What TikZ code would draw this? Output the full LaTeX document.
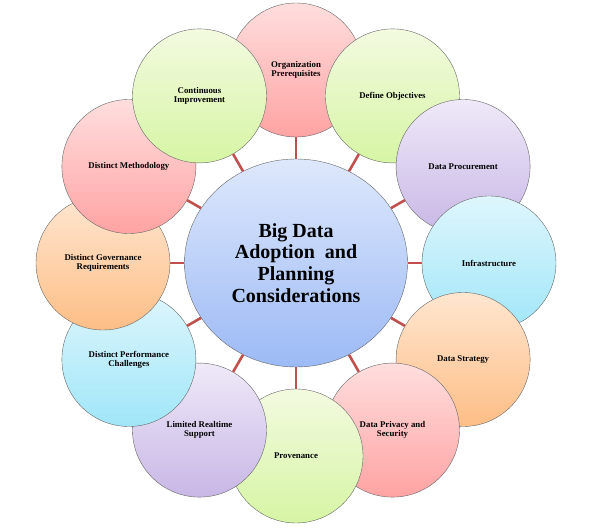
\documentclass[tikz,border=0pt]{standalone}
\usepackage{fontspec}
\setmainfont{Liberation Serif}
\usetikzlibrary{shapes}

\definecolor{linkred}{RGB}{192,80,77}
\definecolor{pinktop}{RGB}{255,222,222}
\definecolor{pinkbot}{RGB}{255,163,163}
\definecolor{greentop}{RGB}{243,250,224}
\definecolor{greenbot}{RGB}{214,245,164}
\definecolor{purpletop}{RGB}{239,233,248}
\definecolor{purplebot}{RGB}{200,183,230}
\definecolor{cyantop}{RGB}{222,246,253}
\definecolor{cyanbot}{RGB}{160,230,248}
\definecolor{orangetop}{RGB}{255,230,208}
\definecolor{orangebot}{RGB}{253,190,134}
\definecolor{bluetop}{RGB}{222,232,252}
\definecolor{bluebot}{RGB}{156,186,245}

\tikzset{
	ball/.style={circle, draw=black!60, thin, minimum size=134pt, inner sep=0pt, align=center, font=\bfseries\fontsize{8.8}{9.2}\selectfont},
	pinkball/.style={ball, top color=pinktop, bottom color=pinkbot},
	greenball/.style={ball, top color=greentop, bottom color=greenbot},
	purpleball/.style={ball, top color=purpletop, bottom color=purplebot},
	cyanball/.style={ball, top color=cyantop, bottom color=cyanbot},
	orangeball/.style={ball, top color=orangetop, bottom color=orangebot},
	hubball/.style={ellipse, draw=black!60, thin, minimum width=223pt, minimum height=208pt, inner sep=0pt, align=center, top color=bluetop, bottom color=bluebot, font=\bfseries\fontsize{20}{21.7}\selectfont},
	link/.style={draw=linkred, line width=2.6pt}
}

\begin{document}
\begin{tikzpicture}[x=1pt, y=1pt]
	\useasboundingbox (0,0) rectangle (590,531);
	
	\node[pinkball] (org) at (296,461) {Organization\\Prerequisites};
	\node[greenball] (objectives) at (392.5,435.1) {Define Objectives};
	\node[purpleball] (procure) at (463.1,364.5) {Data Procurement};
	\node[cyanball] (infra) at (489,268) {Infrastructure};
	\node[orangeball] (strategy) at (463.1,171.5) {Data Strategy};
	\node[pinkball] (privacy) at (392.5,100.9) {Data Privacy and\\Security};
	\node[greenball] (proven) at (296,75) {Provenance};
	\node[purpleball] (realtime) at (199.5,100.9) {Limited Realtime\\Support};
	\node[cyanball] (perform) at (128.9,171.5) {Distinct Performance\\Challenges};
	\node[orangeball] (govern) at (103,268) {Distinct Governance\\Requirements};
	\node[pinkball] (method) at (128.9,364.5) {Distinct Methodology};
	\node[greenball] (improve) at (199.5,435.1) {Continuous\\Improvement};
	
	\node[hubball] (hub) at (296,268) {Big Data\\Adoption\ \ and\\Planning\\Considerations};
	
	\draw[link] (hub) -- (org);
	\draw[link] (hub) -- (objectives);
	\draw[link] (hub) -- (procure);
	\draw[link] (hub) -- (infra);
	\draw[link] (hub) -- (strategy);
	\draw[link] (hub) -- (privacy);
	\draw[link] (hub) -- (proven);
	\draw[link] (hub) -- (realtime);
	\draw[link] (hub) -- (perform);
	\draw[link] (hub) -- (govern);
	\draw[link] (hub) -- (method);
	\draw[link] (hub) -- (improve);
\end{tikzpicture}
\end{document}
